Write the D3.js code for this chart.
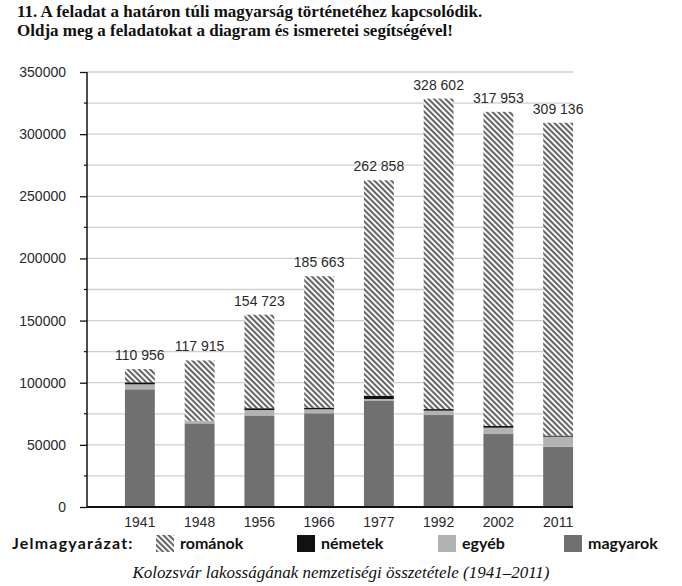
<!DOCTYPE html>
<html>
<head>
<meta charset="utf-8">
<script src="https://cdn.jsdelivr.net/npm/d3@7"></script>
<style>
  body { margin: 0; background: #fff; }
  svg { display: block; }
</style>
</head>
<body>
<div id="chart"></div>
<script>
// Data
const years = ["1941", "1948", "1956", "1966", "1977", "1992", "2002", "2011"];
const totals = [110956, 117915, 154723, 185663, 262858, 328602, 317953, 309136];
const magyarok = [94700, 67300, 73200, 75400, 85300, 74000, 58700, 48500];
const egyeb = [4000, 2100, 4800, 3200, 1600, 3500, 5100, 8100];
const nemetek = [1600, 0, 1500, 1400, 2700, 1300, 1400, 900];
const romanok = [10656, 48515, 75223, 105663, 173258, 249802, 252753, 251636];
const yTicks = [0, 50000, 100000, 150000, 200000, 250000, 300000, 350000];

const legendItems = [
  { key: "romanok", label: "románok", x: 156 },
  { key: "nemetek", label: "németek", x: 297 },
  { key: "egyeb", label: "egyéb", x: 438 },
  { key: "magyarok", label: "magyarok", x: 564 }
];

const fills = {
  magyarok: "#707070",
  egyeb: "#b3b3b3",
  nemetek: "#111111",
  romanok: "url(#hatch)"
};

// Dimensions
const dimensions = {
  width: 682,
  height: 586,
  axisX: 87,
  axisEnd: 573,
  top: 72,
  bottom: 507
};

const svg = d3.select("#chart")
  .append("svg")
  .attr("width", dimensions.width)
  .attr("height", dimensions.height);

// hatch pattern for románok
const defs = svg.append("defs");
defs.append("pattern")
  .attr("id", "hatch")
  .attr("patternUnits", "userSpaceOnUse")
  .attr("width", 4)
  .attr("height", 4)
  .attr("patternTransform", "rotate(-45)")
  .call(p => {
    p.append("rect").attr("width", 4).attr("height", 4).attr("fill", "#fff");
    p.append("rect").attr("width", 2.1).attr("height", 4).attr("fill", "#666");
  });

// Title
const title = svg.append("g")
  .style("font-family", "'Liberation Serif', 'Times New Roman', serif")
  .style("font-weight", "bold")
  .style("font-size", "17px")
  .attr("fill", "#111");
title.append("text").attr("x", 17).attr("y", 17)
  .text("11. A feladat a határon túli magyarság történetéhez kapcsolódik.");
title.append("text").attr("x", 17).attr("y", 36)
  .text("Oldja meg a feladatokat a diagram és ismeretei segítségével!");

// Scales
const xScale = d3.scaleBand()
  .domain(years)
  .range([110, 588])
  .paddingInner(0.5)
  .paddingOuter(0.25);

const yScale = d3.scaleLinear()
  .domain([0, 350000])
  .range([dimensions.bottom, dimensions.top]);

// Gridlines every 25000
const gridValues = d3.range(25000, 350001, 25000);
svg.append("g")
  .selectAll("line")
  .data(gridValues)
  .join("line")
  .attr("x1", dimensions.axisX)
  .attr("x2", dimensions.axisEnd)
  .attr("y1", d => yScale(d))
  .attr("y2", d => yScale(d))
  .attr("stroke", "#cfcfcf")
  .attr("stroke-width", 1.3);

// Stacked bars
const rows = years.map((y, i) => ({
  year: y,
  magyarok: magyarok[i],
  egyeb: egyeb[i],
  nemetek: nemetek[i],
  romanok: romanok[i]
}));
const stack = d3.stack().keys(["magyarok", "egyeb", "nemetek", "romanok"]);
const series = stack(rows);

svg.append("g")
  .selectAll("g")
  .data(series)
  .join("g")
  .attr("fill", d => fills[d.key])
  .selectAll("rect")
  .data(d => d)
  .join("rect")
  .attr("x", d => xScale(d.data.year))
  .attr("width", xScale.bandwidth())
  .attr("y", d => yScale(d[1]))
  .attr("height", d => yScale(d[0]) - yScale(d[1]));

// Total labels
const fmt = d3.formatLocale({ decimal: ",", thousands: " ", grouping: [3] }).format(",d");
svg.append("g")
  .selectAll("text")
  .data(totals)
  .join("text")
  .attr("x", (d, i) => xScale(years[i]) + xScale.bandwidth() / 2)
  .attr("y", d => yScale(d) - 9)
  .attr("text-anchor", "middle")
  .style("font-family", "'Liberation Sans', Arial, sans-serif")
  .style("font-size", "14px")
  .attr("fill", "#2a2a2a")
  .text(d => fmt(d));

// Y axis
const yAxis = d3.axisLeft(yScale)
  .tickValues(yTicks)
  .tickSize(7)
  .tickPadding(14)
  .tickFormat(d3.format("d"));

const yAxisGroup = svg.append("g")
  .attr("transform", `translate(${dimensions.axisX},0)`)
  .call(yAxis);
yAxisGroup.select(".domain").remove();
yAxisGroup.selectAll("line").attr("stroke", "#111").attr("stroke-width", 1.3);
yAxisGroup.selectAll("text")
  .style("font-family", "'Liberation Sans', Arial, sans-serif")
  .style("font-size", "14px")
  .attr("fill", "#2a2a2a");

// minor ticks
svg.append("g")
  .selectAll("line")
  .data(gridValues.filter(d => d % 50000 !== 0))
  .join("line")
  .attr("x1", dimensions.axisX - 3)
  .attr("x2", dimensions.axisX)
  .attr("y1", d => yScale(d))
  .attr("y2", d => yScale(d))
  .attr("stroke", "#111")
  .attr("stroke-width", 1.2);

svg.append("line")
  .attr("x1", dimensions.axisX)
  .attr("x2", dimensions.axisX)
  .attr("y1", yScale(350000))
  .attr("y2", yScale(0))
  .attr("stroke", "#111")
  .attr("stroke-width", 1.5);

// X axis
const xAxis = d3.axisBottom(xScale).tickSize(0).tickPadding(10);
const xAxisGroup = svg.append("g")
  .attr("transform", `translate(0,${dimensions.bottom})`)
  .call(xAxis);
xAxisGroup.select(".domain").remove();
xAxisGroup.selectAll("text")
  .style("font-family", "'Liberation Sans', Arial, sans-serif")
  .style("font-size", "14px")
  .attr("fill", "#2a2a2a");

svg.append("line")
  .attr("x1", dimensions.axisX)
  .attr("x2", dimensions.axisEnd)
  .attr("y1", yScale(0))
  .attr("y2", yScale(0))
  .attr("stroke", "#111")
  .attr("stroke-width", 2);

// Legend
const legend = svg.append("g")
  .style("font-family", "Lato, 'Liberation Sans', sans-serif")
  .style("font-weight", "bold")
  .style("font-size", "16px")
  .attr("fill", "#111");

legend.append("text")
  .attr("x", 12)
  .attr("y", 549)
  .style("letter-spacing", "1.2px")
  .text("Jelmagyarázat:");

const items = legend.selectAll("g.item")
  .data(legendItems)
  .join("g")
  .attr("class", "item")
  .attr("transform", d => `translate(${d.x},535)`);
items.append("rect")
  .attr("width", 18)
  .attr("height", 17)
  .attr("fill", d => fills[d.key]);
items.append("text")
  .attr("x", 24)
  .attr("y", 14)
  .text(d => d.label);

// Caption
svg.append("text")
  .attr("x", 341)
  .attr("y", 578)
  .attr("text-anchor", "middle")
  .style("font-family", "'Liberation Serif', 'Times New Roman', serif")
  .style("font-style", "italic")
  .style("font-size", "17px")
  .attr("fill", "#111")
  .text("Kolozsvár lakosságának nemzetiségi összetétele (1941–2011)");
</script>
</body>
</html>
